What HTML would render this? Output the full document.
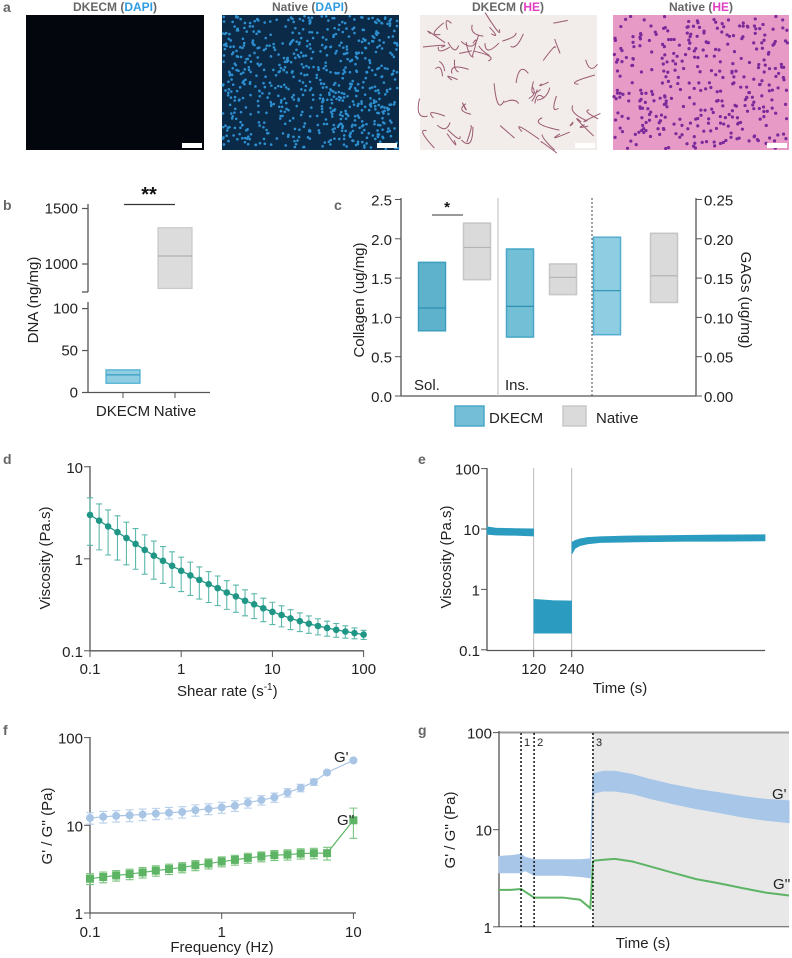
<!DOCTYPE html>
<html><head><meta charset="utf-8">
<style>
html,body{margin:0;padding:0;background:#fff;}
svg{display:block;font-family:"Liberation Sans",sans-serif;}
.pl{font-family:"Liberation Sans",sans-serif;font-size:14px;fill:#666;font-weight:bold;}
.tk{font-size:15px;fill:#222;}
.ti{font-size:15px;fill:#222;}
</style></head>
<body>
<svg id="fig" width="792" height="958" viewBox="0 0 792 958">
  <text class="pl" x="3" y="12">a</text>
  <text x="115" y="11" text-anchor="middle" font-family="Liberation Sans" font-weight="bold" font-size="12" fill="#666">DKECM (<tspan fill="#2f9be0">DAPI</tspan>)</text>
  <text x="310" y="11" text-anchor="middle" font-family="Liberation Sans" font-weight="bold" font-size="12" fill="#666">Native (<tspan fill="#2f9be0">DAPI</tspan>)</text>
  <text x="508" y="11" text-anchor="middle" font-family="Liberation Sans" font-weight="bold" font-size="12" fill="#666">DKECM (<tspan fill="#e040c0">HE</tspan>)</text>
  <text x="701" y="11" text-anchor="middle" font-family="Liberation Sans" font-weight="bold" font-size="12" fill="#666">Native (<tspan fill="#e040c0">HE</tspan>)</text>
  <rect x="26" y="15" width="178" height="135" fill="#03070d"/>
  <rect x="222" y="15" width="177" height="135" fill="#0b2a48"/>
  <rect x="420" y="15" width="177" height="135" fill="#f2ecea"/>
  <rect x="613" y="15" width="176" height="135" fill="#e79ac6"/>
  <g id="imgtex"></g>
  <rect x="182" y="143" width="20" height="5" fill="#fff"/>
  <rect x="377" y="143" width="20" height="5" fill="#fff"/>
  <rect x="575" y="143" width="20" height="5" fill="#fff"/>
  <rect x="767" y="143" width="20" height="5" fill="#fff"/>

  <text class="pl" x="3" y="210">b</text>
  <text class="pl" x="334" y="210">c</text>
  <text class="pl" x="3" y="464">d</text>
  <text class="pl" x="418" y="464">e</text>
  <text class="pl" x="3" y="735">f</text>
  <text class="pl" x="418" y="735">g</text>
  <g id="plots"></g>
</svg>
<script>
const NS='http://www.w3.org/2000/svg';
const root=document.getElementById('plots');
function mk(tag,attrs,parent){const e=document.createElementNS(NS,tag);for(const k in attrs)e.setAttribute(k,attrs[k]);(parent||root).appendChild(e);return e;}
function txt(s,attrs,parent){const e=mk('text',attrs,parent);e.textContent=s;return e;}

/* ---------- panel a textures (decorative) ---------- */
const tex=document.getElementById('imgtex');
let seed=7;function rnd(){seed=(seed*16807)%2147483647;return seed/2147483647;}
for(let i=0;i<700;i++){const c=mk('circle',{cx:223+rnd()*175,cy:16+rnd()*133,r:1.3,fill:'#2d8fd0'},tex);

}
for(let i=0;i<60;i++){const p=mk('path',{d:`M${425+rnd()*165} ${20+rnd()*125} q${rnd()*30-15} ${rnd()*30-15} ${rnd()*36-18} ${rnd()*36-18}`,stroke:'#9a5a72',fill:'none','stroke-width':1},tex);

}
for(let i=0;i<350;i++){const c=mk('circle',{cx:614+rnd()*174,cy:16+rnd()*133,r:1.6,fill:'#7a2a9a'},tex);

}

/* ---------- panel b data ---------- */
const bCats=['DKECM','Native'];
const bMin=[11,780];
const bMed=[21,1072];
const bMax=[27,1327];
const bUpperTicks=[1000,1500];
const bLowerTicks=[0,50,100];
function byLow(v){return 392.5-v*0.839;}
function byHigh(v){return 264-(v-1000)*0.111;}
function bY(v){return v<=100?byLow(v):byHigh(v);}
const bX=[123,175];
{
const g=mk('g',{});


let l=mk('line',{x1:88,y1:204,x2:88,y2:292,stroke:'#555','stroke-width':1.3},g);


l=mk('line',{x1:82,y1:292,x2:88,y2:292,stroke:'#555','stroke-width':1.3},g);


l=mk('line',{x1:88,y1:302,x2:88,y2:393,stroke:'#555','stroke-width':1.3},g);


l=mk('line',{x1:88,y1:392.5,x2:210,y2:392.5,stroke:'#555','stroke-width':1.3},g);


bUpperTicks.concat(bLowerTicks).forEach(v=>{
 const y=(bLowerTicks.includes(v))?byLow(v):byHigh(v);
 const t=mk('line',{x1:82,y1:y,x2:88,y2:y,stroke:'#555','stroke-width':1.2},g);
 
 
 const s=txt(String(v),{x:78,y:y+5,'text-anchor':'end',class:'tk'},g);
 
 
});
const fills=['#8fcde3','#dcdcdc'],strokes=['#4aaed0','#c8c8c8'];
bCats.forEach((c,i)=>{
 const x=bX[i];
 const r=mk('rect',{x:x-17,y:bY(bMax[i]),width:34,height:bY(bMin[i])-bY(bMax[i]),fill:fills[i],stroke:strokes[i],'stroke-width':1.2},g);
 
 
 const m=mk('line',{x1:x-17,x2:x+17,y1:bY(bMed[i]),y2:bY(bMed[i]),stroke:strokes[i]==='#c8c8c8'?'#b0b0b0':'#3a9cc0','stroke-width':1.2},g);
 
 
 const t=mk('line',{x1:x,x2:x,y1:392.5,y2:398,stroke:'#555'},g);
 
 
 const s=txt(c,{x:x,y:416,'text-anchor':'middle',class:'tk'},g);
 
 
});
let s=mk('line',{x1:124,x2:175,y1:204.5,y2:204.5,stroke:'#333','stroke-width':1.3},g);


s=txt('**',{x:149,y:201,'text-anchor':'middle','font-size':20,'font-weight':'bold',fill:'#111','font-family':'Liberation Sans'},g);


s=txt('DNA (ng/mg)',{x:0,y:0,transform:'translate(38,300) rotate(-90)','text-anchor':'middle',class:'ti','font-size':16,'font-family':'Liberation Sans'},g);


}

/* ---------- panel c data ---------- */
const cGroups=['Sol.','Ins.','GAGs'];
const cDkMin=[0.83,0.75,0.78];
const cDkMed=[1.12,1.14,1.34];
const cDkMax=[1.70,1.87,2.02];
const cNaMin=[1.48,1.29,1.19];
const cNaMed=[1.89,1.51,1.53];
const cNaMax=[2.20,1.68,2.07];
const cLeftTicks=['0.0','0.5','1.0','1.5','2.0','2.5'];
const cRightTicks=['0.00','0.05','0.10','0.15','0.20','0.25'];
function cy(v){return 396-v*78.6;}
const cDkX=[432,520,607];
const cNaX=[477,563,664];
{
const g=mk('g',{});


let l=mk('line',{x1:401,y1:198,x2:401,y2:396,stroke:'#555','stroke-width':1.3},g);


l=mk('line',{x1:696,y1:198,x2:696,y2:396,stroke:'#555','stroke-width':1.3},g);


l=mk('line',{x1:401,y1:396,x2:696,y2:396,stroke:'#555','stroke-width':1.3},g);


l=mk('line',{x1:498,y1:198,x2:498,y2:396,stroke:'#bbb','stroke-width':1},g);


l=mk('line',{x1:592,y1:198,x2:592,y2:396,stroke:'#444','stroke-width':1,'stroke-dasharray':'2,2'},g);


cLeftTicks.forEach(v=>{
 const y=cy(+v);
 const t=mk('line',{x1:395,y1:y,x2:401,y2:y,stroke:'#555'},g);
 
 
 const s=txt(v,{x:392,y:y+6,'text-anchor':'end',class:'tk','font-size':17},g);
 
 
});
cRightTicks.forEach(v=>{
 const y=cy(+v*10);
 const t=mk('line',{x1:696,y1:y,x2:702,y2:y,stroke:'#555'},g);
 
 
 const s=txt(v,{x:704,y:y+6,'text-anchor':'start',class:'tk','font-size':17},g);
 
 
});
const dkFill=['#5fb2cc','#73bfd6','#8fcde2'],dkStroke=['#3d9fbf','#45a6c6','#52add0'];
cGroups.forEach((gr,i)=>{
 let r=mk('rect',{x:cDkX[i]-13.5,y:cy(cDkMax[i]),width:27,height:cy(cDkMin[i])-cy(cDkMax[i]),fill:dkFill[i],stroke:dkStroke[i],'stroke-width':1.5},g);
 
 
 let m=mk('line',{x1:cDkX[i]-13.5,x2:cDkX[i]+13.5,y1:cy(cDkMed[i]),y2:cy(cDkMed[i]),stroke:'#2e8fb0','stroke-width':1.2},g);
 
 
 r=mk('rect',{x:cNaX[i]-13.5,y:cy(cNaMax[i]),width:27,height:cy(cNaMin[i])-cy(cNaMax[i]),fill:'#dadada',stroke:'#c6c6c6','stroke-width':1.5},g);
 
 
 m=mk('line',{x1:cNaX[i]-13.5,x2:cNaX[i]+13.5,y1:cy(cNaMed[i]),y2:cy(cNaMed[i]),stroke:'#b4b4b4','stroke-width':1.2},g);
 
 
});
let s=txt('Sol.',{x:414,y:390,class:'tk','font-size':13},g);


s=txt('Ins.',{x:505,y:390,class:'tk','font-size':13},g);


s=mk('line',{x1:432,x2:463,y1:215,y2:215,stroke:'#333','stroke-width':1},g);


s=txt('*',{x:447,y:212,'text-anchor':'middle','font-size':15,'font-weight':'bold',fill:'#111'},g);


s=txt('Collagen (ug/mg)',{x:0,y:0,transform:'translate(364,300) rotate(-90)','text-anchor':'middle',class:'ti','font-size':17,'font-family':'Liberation Sans'},g);


s=txt('GAGs (ug/mg)',{x:0,y:0,transform:'translate(741,300) rotate(90)','text-anchor':'middle',class:'ti','font-size':17,'font-family':'Liberation Sans'},g);


s=mk('rect',{x:455,y:406,width:29,height:20,fill:'#74bfd7',stroke:'#4aa9c9','stroke-width':1.5},g);


s=txt('DKECM',{x:489,y:423,class:'tk','font-size':18},g);


s=mk('rect',{x:563,y:406,width:23,height:20,fill:'#dadada',stroke:'#c8c8c8','stroke-width':1.5},g);


s=txt('Native',{x:596,y:423,class:'tk','font-size':18},g);


}

/* ---------- panel d data ---------- */
const dShear=[0.1,0.126,0.158,0.2,0.251,0.316,0.398,0.501,0.631,0.794,1,1.26,1.58,2,2.51,3.16,3.98,5.01,6.31,7.94,10,12.6,15.8,20,25.1,31.6,39.8,50.1,63.1,79.4,100];
const dVisc=[3.0,2.6,2.25,1.95,1.68,1.45,1.25,1.08,0.95,0.84,0.74,0.66,0.59,0.53,0.48,0.43,0.39,0.35,0.32,0.29,0.265,0.245,0.225,0.21,0.197,0.186,0.177,0.169,0.162,0.156,0.15];
const dErr=[1.6,1.35,1.15,0.98,0.82,0.68,0.57,0.48,0.41,0.35,0.3,0.26,0.225,0.195,0.17,0.148,0.128,0.11,0.096,0.083,0.072,0.063,0.055,0.048,0.042,0.037,0.033,0.029,0.025,0.021,0.017];
const dXTicks=['0.1','1','10','100'];
const dYTicks=['0.1','1','10'];
function dx(v){return 90+(Math.log10(v)+1)*91.2;}
function dy(v){return 558.8-Math.log10(v)*92;}
{
const g=mk('g',{});


let l=mk('line',{x1:90,y1:466,x2:90,y2:651,stroke:'#555','stroke-width':1.3},g);


l=mk('line',{x1:90,y1:650.8,x2:364,y2:650.8,stroke:'#555','stroke-width':1.3},g);


dYTicks.forEach(v=>{const y=dy(+v);
 const t=mk('line',{x1:84,y1:y,x2:90,y2:y,stroke:'#555'},g);
 
 
 const s=txt(v,{x:83,y:y+6,'text-anchor':'end',class:'tk','font-size':15},g);
 
 });
dXTicks.forEach(v=>{const x=dx(+v);
 const t=mk('line',{x1:x,y1:651,x2:x,y2:657,stroke:'#555'},g);
 
 
 const s=txt(v,{x:x,y:674,'text-anchor':'middle',class:'tk','font-size':15},g);
 
 });
dShear.forEach((s,i)=>{const x=dx(s);
 const e=mk('path',{d:`M${x} ${dy(dVisc[i]+dErr[i])}V${dy(dVisc[i]-dErr[i])}M${x-3} ${dy(dVisc[i]+dErr[i])}h6M${x-3} ${dy(dVisc[i]-dErr[i])}h6`,stroke:'#5bb8ab','stroke-width':1.1,fill:'none'},g);
 
 });
const line=mk('polyline',{points:dShear.map((s,i)=>dx(s)+','+dy(dVisc[i])).join(' '),fill:'none',stroke:'#1f9686','stroke-width':1.3},g);


dShear.forEach((s,i)=>{
 const c=mk('circle',{cx:dx(s),cy:dy(dVisc[i]),r:3.3,fill:'#1f9686'},g);
 
 });
let s=txt('Viscosity (Pa.s)',{x:0,y:0,transform:'translate(50,558) rotate(-90)','text-anchor':'middle',class:'ti','font-size':15,'font-family':'Liberation Sans'},g);


s=txt('Shear rate (s',{x:177,y:696,class:'ti','font-size':15},g);
const sp=document.createElementNS(NS,'tspan');sp.setAttribute('dy','-6');sp.setAttribute('font-size','10');sp.textContent='-1';s.appendChild(sp);
const sp2=document.createElementNS(NS,'tspan');sp2.setAttribute('dy','6');sp2.textContent=')';s.appendChild(sp2);


}

/* ---------- panel e data ---------- */
const eTime=[-27,0,60,119,121,180,239,241,250,265,290,330,400,500,600,700,850];
const eLow=[8.2,8.0,7.9,7.7,0.19,0.19,0.19,3.9,4.8,5.3,5.7,6.0,6.1,6.2,6.3,6.3,6.4];
const eHigh=[10.8,10.3,10.1,10.0,0.68,0.65,0.64,6.0,6.4,6.8,7.2,7.4,7.6,7.7,7.8,7.9,8.0];
const eXTicks=[120,240];
const eYTicks=['0.1','1','10','100'];
const EAX=487;
function ex(t){return 495.7+t*0.3167;}
function ey(v){return 589.4-Math.log10(v)*60.4;}
{
const g=mk('g',{});


eXTicks.forEach(t=>{const l=mk('line',{x1:ex(t),x2:ex(t),y1:468,y2:651,stroke:'#aaa','stroke-width':0.8},g);
 
 });
let l=mk('line',{x1:EAX,y1:468,x2:EAX,y2:651,stroke:'#555','stroke-width':1.3},g);


l=mk('line',{x1:EAX,y1:650.5,x2:765,y2:650.5,stroke:'#555','stroke-width':1.3},g);


eYTicks.forEach(v=>{const y=ey(+v);
 const t=mk('line',{x1:EAX-6,y1:y,x2:EAX,y2:y,stroke:'#555'},g);
 
 
 const s=txt(v,{x:EAX-7,y:y+6,'text-anchor':'end',class:'tk','font-size':15},g);
 
 });
eXTicks.forEach(v=>{const x=ex(v);
 const t=mk('line',{x1:x,y1:651,x2:x,y2:657,stroke:'#555'},g);
 
 
 const s=txt(String(v),{x:x,y:674,'text-anchor':'middle',class:'tk','font-size':15},g);
 
 });
const segs=[[0,3],[4,6],[7,16]];
segs.forEach((sg,k)=>{let pts=[];
 for(let i=sg[0];i<=sg[1];i++)pts.push(ex(eTime[i])+','+ey(eHigh[i]));
 for(let i=sg[1];i>=sg[0];i--)pts.push(ex(eTime[i])+','+ey(eLow[i]));
 const p=mk('polygon',{points:pts.join(' '),fill:'#2b9cc0',stroke:'#2b9cc0','stroke-width':1},g);
 
 });
let s=txt('Viscosity (Pa.s)',{x:0,y:0,transform:'translate(451,557) rotate(-90)','text-anchor':'middle',class:'ti','font-size':15,'font-family':'Liberation Sans'},g);


s=txt('Time (s)',{x:620,y:693,'text-anchor':'middle',class:'ti','font-size':15},g);


}

/* ---------- panel f data ---------- */
const fFreq=[0.1,0.126,0.158,0.2,0.251,0.316,0.398,0.501,0.631,0.794,1,1.26,1.58,2,2.51,3.16,3.98,5.01,6.31,10];
const fGp=[12.1,12.5,12.8,13.0,13.3,13.6,13.9,14.2,14.9,15.4,16.0,16.7,18.1,19.4,20.8,23.6,26.7,31.2,40,55];
const fGpErr=[1.8,1.9,1.9,2.0,2.0,2.0,2.1,2.1,2.2,2.2,2.3,2.3,2.4,2.4,2.5,2.6,2.6,2.6,1.5,1.5];
const fGpp=[2.46,2.57,2.68,2.78,2.90,3.04,3.17,3.31,3.50,3.66,3.86,4.03,4.25,4.40,4.56,4.63,4.76,4.81,4.81,11.4];
const fGppErr=[0.35,0.36,0.37,0.38,0.40,0.41,0.43,0.44,0.46,0.48,0.5,0.52,0.55,0.57,0.6,0.62,0.64,0.66,0.8,4.3];
const fXTicks=['0.1','1','10'];
const fYTicks=['1','10','100'];
function fx(v){return 90+(Math.log10(v)+1)*131.7;}
function fy(v){return 913-Math.log10(v)*87.7;}
{
const g=mk('g',{});


let l=mk('line',{x1:90,y1:737,x2:90,y2:913.5,stroke:'#555','stroke-width':1.3},g);


l=mk('line',{x1:90,y1:913,x2:356,y2:913,stroke:'#555','stroke-width':1.3},g);


fYTicks.forEach(v=>{const y=fy(+v);
 const t=mk('line',{x1:84,y1:y,x2:90,y2:y,stroke:'#555'},g);
 
 
 const s=txt(v,{x:83,y:y+6,'text-anchor':'end',class:'tk','font-size':15},g);
 
 });
fXTicks.forEach(v=>{const x=fx(+v);
 const t=mk('line',{x1:x,y1:913,x2:x,y2:919,stroke:'#555'},g);
 
 
 const s=txt(v,{x:x,y:937,'text-anchor':'middle',class:'tk','font-size':15},g);
 
 });
const series=[[fGp,fGpErr,'#a9c5e6','#b7cfea','storage-modulus'],[fGpp,fGppErr,'#5db465','#7cc47f','loss-modulus']];
series.forEach(([vals,errs,col,ecol,nm])=>{
 fFreq.forEach((f,i)=>{const x=fx(f);
  const e=mk('path',{d:`M${x} ${fy(vals[i]+errs[i])}V${fy(vals[i]-errs[i])}M${x-4} ${fy(vals[i]+errs[i])}h8M${x-4} ${fy(vals[i]-errs[i])}h8`,stroke:ecol,'stroke-width':1.1,fill:'none'},g);
  
  });
 const pl=mk('polyline',{points:fFreq.map((f,i)=>fx(f)+','+fy(vals[i])).join(' '),fill:'none',stroke:col,'stroke-width':1.2},g);
 
 
 fFreq.forEach((f,i)=>{
  let m;
  if(nm==='storage-modulus') m=mk('circle',{cx:fx(f),cy:fy(vals[i]),r:4,fill:col},g);
  else m=mk('rect',{x:fx(f)-4,y:fy(vals[i])-4,width:8,height:8,fill:col},g);
  
  });
});
let s=txt("G'",{x:334,y:762,class:'tk','font-size':10},g);


s=txt("G''",{x:337,y:825,class:'tk','font-size':10},g);


s=txt("G' / G'' (Pa)",{x:0,y:0,transform:'translate(52,826) rotate(-90)','text-anchor':'middle',class:'ti','font-size':15,'font-family':'Liberation Sans'},g);


s=txt('Frequency (Hz)',{x:222,y:952,'text-anchor':'middle',class:'ti','font-size':15},g);


}

/* ---------- panel g data ---------- */
const gTime=[0,4,7.6,9,12.1,16,22,28,31.5,32.4,33,36,40,46,52,60,68,76,84,92,100];
const gGpLo=[3.6,3.6,3.6,3.8,3.4,3.4,3.4,3.3,3.2,22,24,25,25,23.5,21,18.5,16.5,15,13.5,12.5,11.8];
const gGpHi=[5.3,5.4,5.6,5.2,4.9,4.9,4.9,4.9,5.0,36,38,40,40,37,33,29,26,24,22,20.5,19.8];
const gGpp=[2.4,2.4,2.45,2.3,2.0,2.0,2.0,1.9,1.55,4.7,4.8,4.9,5.0,4.7,4.2,3.6,3.1,2.8,2.5,2.25,2.1];
const gSteps=[7.6,12.1,32.4];
const gYTicks=['1','10','100'];
function gx(t){return 499+t*2.9;}
function gy(v){return 926.8-Math.log10(v)*97.1;}
{
const g=mk('g',{});


let r=mk('rect',{x:gx(gSteps[2]),y:732,width:789-gx(gSteps[2]),height:195,fill:'#e8e8e8'},g);


let l=mk('line',{x1:499,y1:732.5,x2:789,y2:732.5,stroke:'#9a9a9a','stroke-width':2},g);


l=mk('line',{x1:499,y1:731,x2:499,y2:927,stroke:'#555','stroke-width':1.3},g);


l=mk('line',{x1:499,y1:926.8,x2:789,y2:926.8,stroke:'#555','stroke-width':1},g);


gYTicks.forEach(v=>{const y=gy(+v);
 const t=mk('line',{x1:493,y1:y,x2:499,y2:y,stroke:'#555'},g);
 
 
 const s=txt(v,{x:492,y:y+6,'text-anchor':'end',class:'tk','font-size':15},g);
 
 });
let pts=[];
gTime.forEach((t,i)=>pts.push(gx(t)+','+gy(gGpHi[i])));
for(let i=gTime.length-1;i>=0;i--)pts.push(gx(gTime[i])+','+gy(gGpLo[i]));
let p=mk('polygon',{points:pts.join(' '),fill:'#a8c6e8',stroke:'#a8c6e8'},g);


p=mk('polyline',{points:gTime.map((t,i)=>gx(t)+','+gy(gGpp[i])).join(' '),fill:'none',stroke:'#5db465','stroke-width':2},g);


gSteps.forEach((t,k)=>{
 const d=mk('line',{x1:gx(t),x2:gx(t),y1:733,y2:927,stroke:'#111','stroke-width':1.5,'stroke-dasharray':'2,2'},g);
 
 
 const s=txt(String(k+1),{x:gx(t)+3,y:746,'font-size':11,fill:'#222'},g);
 
 });
let s=txt("G'",{x:772,y:799,class:'tk','font-size':10},g);


s=txt("G''",{x:773,y:889,class:'tk','font-size':10},g);


s=txt("G' / G'' (Pa)",{x:0,y:0,transform:'translate(455,830) rotate(-90)','text-anchor':'middle',class:'ti','font-size':15,'font-family':'Liberation Sans'},g);


s=txt('Time (s)',{x:643,y:948,'text-anchor':'middle',class:'ti','font-size':15},g);


}
</script>
</body></html>
